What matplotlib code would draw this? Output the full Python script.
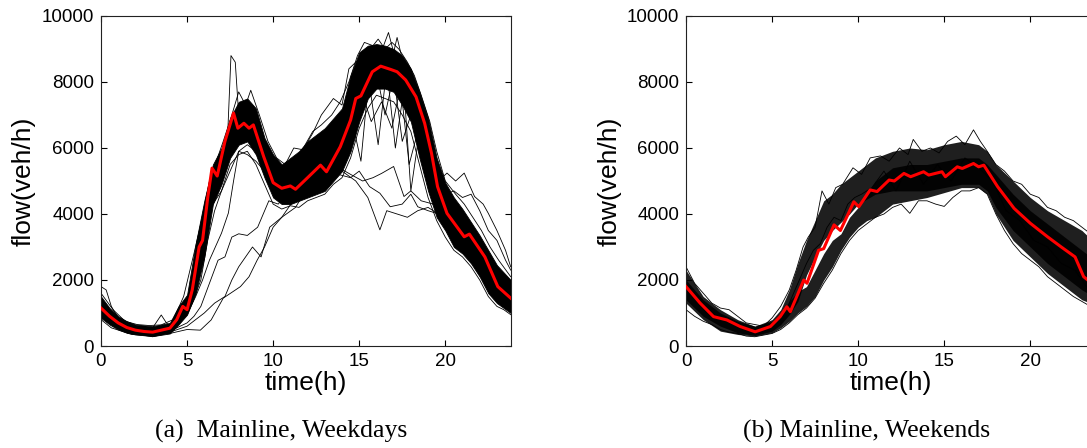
import matplotlib.pyplot as plt

plt.rcParams["font.family"] = ["Liberation Sans", "DejaVu Sans"]

# ---------------- weekdays ----------------
# mean curve (red)
wd_mean_t = [0, 0.5, 1, 1.5, 2, 2.5, 3, 3.5, 4, 4.4, 4.75, 5.0, 5.3, 5.7, 5.9, 6.2, 6.45, 6.75,
             7.2, 7.7, 7.95, 8.3, 8.6, 8.85, 9.45, 10.0, 10.5, 11.0, 11.3, 12.0, 12.75, 13.1,
             13.9, 14.5, 14.8, 15.1, 15.76, 16.25, 16.83, 17.2, 17.7, 18.3, 18.8, 19.2, 19.55,
             20.1, 21.1, 21.4, 22.3, 23.05, 23.8]
wd_mean_v = [1150, 900, 700, 560, 480, 440, 420, 480, 540, 800, 1200, 1100, 1700, 3000, 3200,
             4500, 5390, 5150, 6200, 7060, 6600, 6750, 6600, 6700, 5740, 4950, 4780, 4850, 4750,
             5100, 5480, 5280, 6040, 6850, 7500, 7580, 8310, 8480, 8380, 8310, 8060, 7550, 6750,
             5840, 4830, 4020, 3310, 3390, 2700, 1800, 1450]

# dense bundle of daily curves (lower / upper envelope)
wd_band_t = [0, 0.5, 1, 1.5, 2, 3, 4, 4.5, 5, 5.5, 6, 6.5, 7, 7.5, 8, 8.5, 9, 9.5, 10, 10.5, 11,
             11.5, 12, 13, 14, 14.5, 15, 15.5, 16, 16.5, 17, 17.5, 18, 18.5, 19, 19.5, 20, 20.5,
             21, 21.5, 22, 22.5, 23, 23.8]
wd_band_lo = [850, 650, 500, 400, 350, 300, 380, 650, 950, 1600, 2700, 4300, 4900, 5700, 6100,
              6200, 5800, 5100, 4500, 4300, 4300, 4400, 4500, 4700, 5300, 5900, 6800, 7500, 7800,
              7800, 7700, 7300, 6800, 5700, 4700, 3900, 3500, 3000, 2800, 2500, 2100, 1600, 1300,
              1000]
wd_band_hi = [1500, 1150, 900, 750, 650, 600, 700, 1200, 1550, 3100, 4400, 5500, 6000, 6900,
              7400, 7500, 7200, 6300, 5800, 5500, 5700, 5900, 6200, 6600, 7200, 8200, 8900, 9100,
              9150, 9100, 9000, 8800, 8400, 7700, 6900, 5700, 4950, 4500, 4150, 3750, 3350, 2900,
              2450, 2000]

# individual days at the edges of the bundle and the outliers
wd_top_t = [0, 0.7, 1.4, 2.1, 2.8, 3.5, 4.2, 4.8, 5.4, 5.8, 6.3, 6.7, 7.1, 7.6, 8.0, 8.4, 8.7,
            9.2, 9.7, 10.2, 10.7, 11.2, 11.7, 12.3, 12.8, 13.4, 13.9, 14.4, 14.9, 15.3, 15.8,
            16.1, 16.5, 16.9, 17.3, 17.8, 18.2, 18.6, 19.1, 19.5, 20, 20.6, 21.1, 21.6, 22.1,
            22.6, 23.1, 23.8]
wd_top_v = [1600, 1100, 750, 650, 620, 640, 800, 1500, 2800, 3700, 5000, 5600, 6200, 7000, 7700,
            7300, 7750, 7000, 6200, 5700, 5500, 6000, 5950, 6500, 6700, 7000, 7400, 8000, 8800,
            9200, 9100, 9300, 9000, 9200, 9000, 8600, 8200, 7600, 6800, 5900, 5000, 4600, 4300,
            3900, 3500, 3000, 2600, 2100]
wd_bot_t = [0, 0.6, 1.2, 1.8, 2.4, 3.0, 3.6, 4.2, 4.8, 5.3, 5.8, 6.2, 6.6, 7.0, 7.5, 8.0, 8.5,
            9.0, 9.5, 10.0, 10.5, 11.0, 11.5, 12.0, 12.5, 13.0, 13.5, 14.0, 14.5, 15.0, 15.5,
            16.0, 16.5, 17.0, 17.5, 18.0, 18.5, 19.0, 19.5, 20.0, 20.5, 21.0, 21.5, 22.0, 22.5,
            23.0, 23.4, 23.8]
wd_bot_v = [800, 550, 450, 350, 330, 280, 350, 480, 850, 1300, 2000, 3200, 4100, 4700, 5500,
            5800, 5900, 5500, 4900, 4300, 4150, 4250, 4200, 4400, 4500, 4600, 4900, 5100, 5700,
            6600, 7200, 7600, 7500, 7400, 7000, 6500, 5500, 4500, 3800, 3300, 2900, 2700, 2400,
            2000, 1500, 1200, 1100, 950]
wd_spike_t = [6.5, 7.0, 7.35, 7.55, 7.8, 8.05, 8.5, 9.0]
wd_spike_v = [5000, 5700, 6300, 8800, 8600, 6600, 6500, 6200]
wd_lm_t = [6.5, 7, 7.5, 8, 8.5, 9, 9.5, 10, 10.5, 11]
wd_lm_v = [4300, 4700, 5300, 5900, 5800, 5600, 5300, 5000, 4500, 4400]
wd_la_t = [4, 4.5, 5, 5.5, 5.9, 6.3, 7.0, 7.4, 7.7, 8.0, 8.5, 9.0, 9.5, 10, 10.5, 11]
wd_la_v = [450, 700, 950, 1500, 2000, 2600, 3420, 4030, 5000, 5900, 6100, 5900, 5200, 4800, 4600, 4700]
wd_lb_t = [4, 5, 5.4, 5.8, 6.3, 6.8, 7.2, 7.6, 8.0, 8.5, 9.1, 9.75, 10.3, 11, 12]
wd_lb_v = [450, 700, 900, 1200, 1900, 2600, 2700, 3300, 3400, 3350, 3600, 4400, 4300, 4800, 5000]
wd_lc_t = [4, 5, 6, 6.6, 7.2, 7.6, 8.0, 8.8, 9.3, 9.8, 10.5, 11.3, 12]
wd_lc_v = [420, 600, 1000, 1300, 1500, 2000, 2400, 3000, 2700, 3600, 3900, 4500, 4900]
wd_ld_t = [4, 5, 5.77, 6.4, 7.1, 8.1, 8.6, 9.07, 9.5, 10, 10.5, 11.3, 12]
wd_ld_v = [380, 500, 480, 790, 1450, 1800, 2100, 2600, 3000, 3600, 3900, 4200, 4800]
wd_e_t = [13.5, 14.5, 15.0, 15.6, 16.2, 16.8, 17.5, 18.0, 18.4, 19.0, 19.5, 20.0]
wd_e_v = [5240, 5100, 5300, 4830, 4630, 4220, 4300, 4600, 4220, 4100, 4020, 3800]
wd_f_t = [13.7, 14.5, 15.2, 15.8, 16.3, 17.0, 17.6, 18.0, 18.6, 19.3, 20.0, 21.0]
wd_f_v = [5440, 5200, 5000, 5100, 5230, 5440, 4530, 4700, 4400, 4300, 3900, 3400]
wd_g_t = [14.0, 14.8, 15.5, 16.2, 16.6, 17.2, 17.8, 18.4, 19.0, 19.6, 20.5]
wd_g_v = [5300, 5000, 4500, 3520, 4100, 4000, 3900, 4100, 4200, 4000, 3700]
wd_h_t = [14, 14.6, 15.1, 15.5, 16, 16.5, 17, 17.5, 18, 18.5, 19]
wd_h_v = [5800, 6800, 5600, 7800, 8300, 7000, 8200, 6200, 7000, 6400, 5600]
wd_i_t = [14, 15, 15.6, 16.1, 16.6, 17.1, 17.6, 18, 18.5]
wd_i_v = [5600, 7300, 7900, 6100, 8400, 6000, 7800, 4700, 6500]
wd_i2_t = [14.5, 15.2, 15.7, 16.3, 16.9, 17.4, 17.9, 18.3]
wd_i2_v = [6500, 7600, 6800, 7400, 6600, 7900, 5500, 6300]
wd_j_t = [11, 11.8, 12.3, 12.8, 13.5, 14.0, 14.4, 14.8, 15.5, 16, 17, 18]
wd_j_v = [5500, 6000, 6450, 7000, 7500, 7300, 8400, 8600, 8800, 8900, 8800, 8200]
wd_k_t = [15.5, 16.2, 16.7, 17.0, 17.2, 17.5, 18]
wd_k_v = [8900, 8800, 9500, 8900, 9350, 8700, 8300]
wd_m_t = [18.5, 19.2, 19.6, 20.1, 20.6, 21.1, 21.7, 22.2, 22.5, 23, 23.5, 23.8]
wd_m_v = [7200, 5800, 5000, 5240, 5000, 5240, 4530, 4300, 4020, 3500, 2900, 2400]
wd_n_t = [19, 19.5, 20, 20.5, 21, 21.5, 22, 22.5, 23, 23.5, 23.8]
wd_n_v = [6300, 5000, 4600, 4700, 4500, 4600, 4100, 3500, 3200, 2600, 2300]
wd_o_t = [0, 0.3, 0.6, 1.0]
wd_o_v = [1800, 1700, 1200, 850]
wd_p_t = [3, 3.5, 3.8, 4.2, 4.5, 5]
wd_p_v = [550, 940, 700, 500, 700, 1000]

# ---------------- weekends ----------------
we_mean_t = [0, 0.82, 1.6, 2.37, 3.15, 4.02, 4.9, 5.47, 5.86, 6.06, 6.84, 7.03, 7.7, 8.0, 8.6,
             8.97, 9.75, 10.04, 10.7, 11.1, 11.8, 12.1, 12.66, 13.05, 13.8, 14.1, 14.87, 15.07,
             15.76, 16.05, 16.7, 17.0, 17.3, 18.1, 19.06, 20.0, 21.0, 21.8, 22.6, 23.1, 23.8]
we_mean_v = [1800, 1300, 890, 790, 590, 430, 590, 890, 1190, 1040, 2000, 1900, 2900, 2950, 3670,
             3500, 4370, 4220, 4730, 4680, 5030, 5000, 5230, 5130, 5280, 5180, 5280, 5130, 5430,
             5380, 5530, 5430, 5480, 4830, 4170, 3720, 3310, 3000, 2700, 2100, 1800]

# two groups of weekend days (upper and lower bundle)
we_band_t = [0, 1, 2, 3, 4, 5, 5.5, 6, 6.5, 7, 7.5, 8, 8.5, 9, 9.5, 10, 10.5, 11, 12, 13, 14, 15,
             16, 17, 17.5, 18, 19, 20, 21, 22, 23, 24]
we_up_lo = [1400, 900, 600, 400, 320, 450, 650, 950, 1350, 2150, 2700, 3200, 3500, 3750, 4000,
            4300, 4450, 4600, 4700, 4700, 4700, 4800, 4900, 4900, 4700, 4200, 3500, 3000, 2500,
            2100, 1700, 1400]
we_up_hi = [2300, 1500, 1100, 800, 600, 800, 1100, 1700, 2500, 3200, 3800, 4400, 4600, 4900,
            5100, 5300, 5500, 5700, 5900, 6000, 5950, 6100, 6200, 6100, 5900, 5500, 5000, 4500,
            4100, 3800, 3500, 3000]
we_low_lo = [1300, 800, 450, 350, 300, 400, 550, 750, 1000, 1200, 1500, 2000, 2400, 2900, 3300,
             3600, 3800, 3900, 4300, 4400, 4500, 4650, 4800, 4800, 4600, 4000, 3200, 2700, 2200,
             1800, 1400, 1200]
we_low_hi = [2000, 1400, 1000, 750, 600, 750, 1000, 1350, 1650, 1800, 2300, 2800, 3200, 3400,
             3900, 4200, 4600, 5000, 5400, 5500, 5500, 5600, 5700, 5700, 5500, 5200, 4600, 4100,
             3700, 3300, 2900, 2500]

we_top_t = [0, 0.5, 1, 1.5, 2, 2.5, 3, 3.5, 4, 4.5, 5, 5.5, 6, 6.4, 6.8, 7.1, 7.5, 7.9, 8.3, 8.7,
            9.1, 9.7, 10.2, 10.7, 11.3, 11.8, 12.4, 12.9, 13.2, 13.7, 14.2, 14.7, 15.2, 15.7,
            16.2, 16.7, 17.1, 17.5, 18.0, 18.5, 19.0, 19.5, 20.0, 20.5, 21.0, 21.5, 22.0, 22.5,
            23.0, 23.5, 23.8]
we_top_v = [2400, 1900, 1600, 1300, 1150, 1100, 900, 700, 650, 600, 850, 1200, 1700, 2300, 3000,
            3300, 3600, 4700, 4300, 4800, 4900, 5400, 5200, 5700, 5760, 5600, 6000, 5800, 6260,
            5900, 6000, 5850, 6200, 6360, 6100, 6550, 6200, 5900, 5500, 5300, 5000, 4900, 4600,
            4500, 4200, 4100, 3900, 3800, 3600, 3400, 3100]
we_bot_t = [0, 0.5, 1, 1.5, 2, 2.5, 3, 3.5, 4, 4.5, 5, 5.5, 6, 6.5, 7, 7.5, 8, 8.5, 9, 9.5, 10,
            10.5, 11, 11.5, 12, 12.5, 13, 13.5, 14, 14.5, 15, 15.5, 16, 16.5, 17, 17.5, 18, 18.5,
            19, 19.5, 20, 20.5, 21, 21.5, 22, 22.5, 23, 23.5, 23.8]
we_bot_v = [1100, 900, 750, 650, 500, 420, 380, 300, 280, 330, 380, 500, 700, 950, 1150, 1450,
            1900, 2300, 2800, 3200, 3500, 3700, 3900, 4000, 4200, 4300, 4020, 4400, 4400, 4300,
            4230, 4500, 4700, 4700, 4800, 4600, 4000, 3500, 3100, 2800, 2600, 2400, 2100, 1900,
            1700, 1500, 1350, 1200, 1100]
we_mid_t = [6, 6.5, 7, 7.4, 7.8, 8.2, 8.6, 9.0, 9.4, 9.8, 10.2, 10.8, 11.5, 12.2, 13, 13.8, 14.6,
            15.4, 16.2, 17, 17.8, 18.6, 19.4, 20.2, 21, 21.8, 22.6, 23.4, 23.8]
we_mid_v = [1300, 1900, 2500, 2900, 3100, 3600, 3900, 3800, 4300, 4500, 4600, 4800, 5300, 4700,
            5600, 4900, 5500, 5000, 5700, 5400, 5000, 4100, 3800, 3200, 3000, 2500, 2300, 1700, 1500]

x_ticks = [0, 5, 10, 15, 20]
y_ticks = [0, 2000, 4000, 6000, 8000, 10000]

wd_days = [(wd_top_t, wd_top_v), (wd_bot_t, wd_bot_v), (wd_spike_t, wd_spike_v),
           (wd_lm_t, wd_lm_v), (wd_la_t, wd_la_v), (wd_lb_t, wd_lb_v), (wd_lc_t, wd_lc_v),
           (wd_ld_t, wd_ld_v), (wd_e_t, wd_e_v), (wd_f_t, wd_f_v), (wd_g_t, wd_g_v),
           (wd_h_t, wd_h_v), (wd_i_t, wd_i_v), (wd_i2_t, wd_i2_v), (wd_j_t, wd_j_v),
           (wd_k_t, wd_k_v), (wd_m_t, wd_m_v), (wd_n_t, wd_n_v), (wd_o_t, wd_o_v),
           (wd_p_t, wd_p_v)]
we_days = [(we_top_t, we_top_v), (we_bot_t, we_bot_v), (we_mid_t, we_mid_v)]


def style(ax):
    ax.set_xlim(0, 23.8)
    ax.set_ylim(0, 10000)
    ax.set_xticks(x_ticks)
    ax.set_yticks(y_ticks)
    ax.tick_params(direction="in", top=True, right=True, length=4, width=0.8,
                   labelsize=13.5, pad=5)
    for s in ax.spines.values():
        s.set_linewidth(0.8)
        s.set_color("#222222")
    ax.set_xlabel("time(h)", fontsize=19, labelpad=1)
    ax.set_ylabel("flow(veh/h)", fontsize=19, labelpad=4)


def main():
    fig = plt.figure(figsize=(10.87, 4.48), dpi=100)
    ax1 = fig.add_axes([101 / 1087, 102 / 448, 409.7 / 1087, 330 / 448])
    ax2 = fig.add_axes([686 / 1087, 102 / 448, 409.7 / 1087, 330 / 448])

    # weekdays
    ax1.fill_between(wd_band_t, wd_band_lo, wd_band_hi, color="black", lw=0.6, zorder=1)
    for t, v in wd_days:
        ax1.plot(t, v, color="black", lw=0.6, zorder=2)
    ax1.plot(wd_mean_t, wd_mean_v, color="red", lw=2.2, zorder=3)

    # weekends
    ax2.fill_between(we_band_t, we_up_lo, we_up_hi, color="black", alpha=0.88, lw=0, zorder=1)
    ax2.fill_between(we_band_t, we_low_lo, we_low_hi, color="black", alpha=0.88, lw=0, zorder=1)
    for t, v in we_days:
        ax2.plot(t, v, color="black", lw=0.6, zorder=2)
    ax2.plot(we_mean_t, we_mean_v, color="red", lw=2.2, zorder=3)

    style(ax1)
    style(ax2)

    cap = dict(family=["Liberation Serif", "DejaVu Serif"], fontsize=18.5,
               ha="center", va="baseline")
    fig.text(281.5 / 1087, 10 / 448, "(a)  Mainline, Weekdays", **cap)
    fig.text(867 / 1087, 10 / 448, "(b) Mainline, Weekends", **cap)

    fig.savefig("out.png", dpi=100)


if __name__ == "__main__":
    main()
